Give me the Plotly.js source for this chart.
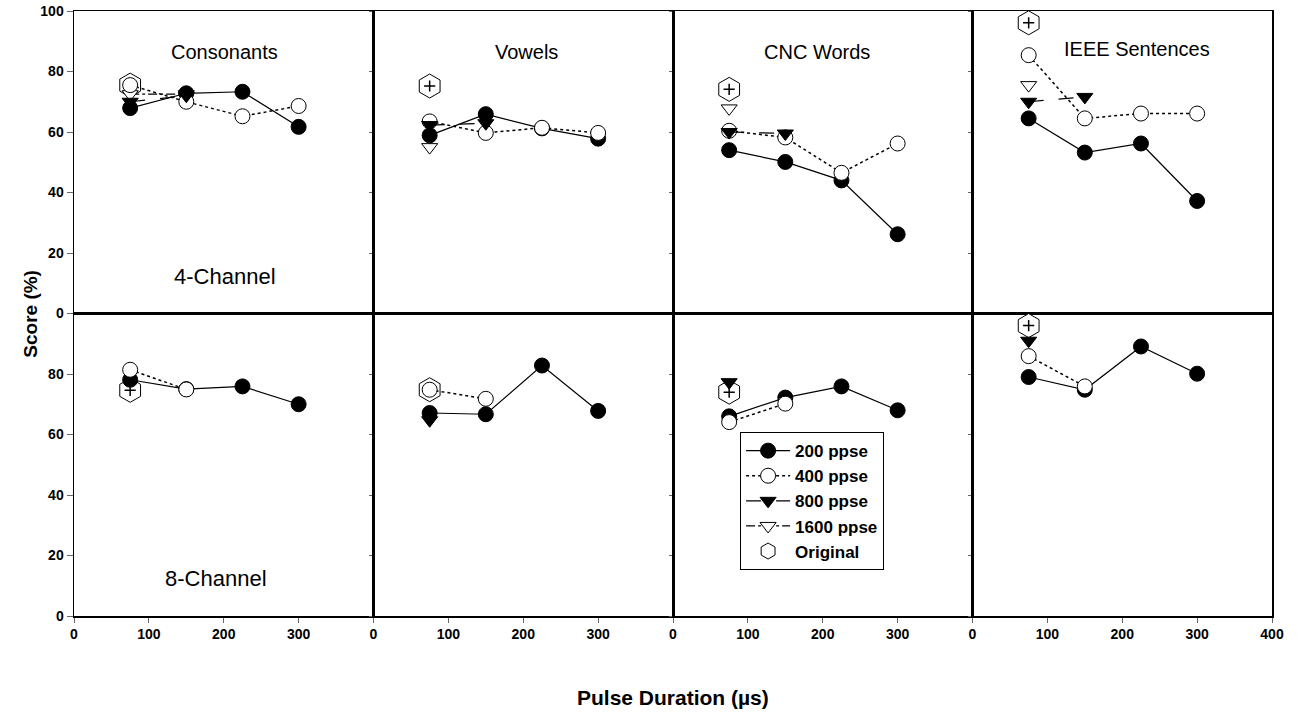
<!DOCTYPE html>
<html>
<head>
<meta charset="utf-8">
<script src="https://cdn.plot.ly/plotly-3.0.1.min.js"></script>
<style>html,body{margin:0;padding:0;background:#fff;}#chart{width:1300px;height:719px;}</style>
</head>
<body>
<div id="chart"></div>
<script>
// ---- data ----
const durations = [75, 150, 225, 300];
const tests = ['Consonants', 'Vowels', 'CNC Words', 'IEEE Sentences'];
const channels = ['4-Channel', '8-Channel'];
const xTicks = [0, 100, 200, 300];
const xTicksLast = [0, 100, 200, 300, 400];
const yTicksTop = [0, 20, 40, 60, 80, 100];
const yTicksBottom = [0, 20, 40, 60, 80];

// 4-channel (top row), one array per test
const s200_4ch = [[67.9, 72.8, 73.3, 61.7], [58.9, 65.9, 61.2, 57.8], [54.0, 50.1, 44.0, 26.2], [64.5, 53.2, 56.2, 37.2]];
const s400_4ch = [[75.5, 70.0, 65.2, 68.6], [63.5, 59.7, 61.4, 59.7], [60.4, 58.2, 46.5, 56.2], [85.4, 64.5, 66.1, 66.1]];
const s800_4ch = [[70.0, 72.0], [62.3, 62.9], [60.0, 59.5], [70.0, 71.6]];
const s1600_4ch = [[72.5, 72.5], [55.0], [67.8], [75.5]];
const orig_4ch = [75.5, 75.2, 74.1, 96.1];

// 8-channel (bottom row)
const s200_8ch = [[78.1, 75.0, 75.9, 70.0], [67.1, 66.7, 82.8, 67.8], [66.0, 72.2, 75.9, 68.0], [79.0, 74.8, 89.1, 80.1]];
const s400_8ch = [[81.4, 74.9], [74.8, 71.8], [64.1, 70.2], [85.9, 75.9]];
const s800_8ch = [[], [64.7], [77.3], [91.0]];
const s1600_8ch = [[], [], [], []];
const orig_8ch = [74.6, 74.8, 74.0, 96.0];

// ---- styles ----
const FONT = 'Arial, "Liberation Sans", sans-serif';
const series = [
  {name: '1600 ppse', rank: 4, key: 's1600', marker: {symbol: 'triangle-down', size: 14, color: '#fff', line: {color: '#000', width: 1}}, line: {color: '#000', width: 1.2, dash: 'dashdot'}},
  {name: '200 ppse', rank: 1, key: 's200', marker: {symbol: 'circle', size: 15, color: '#000', line: {color: '#000', width: 1}}, line: {color: '#000', width: 1.2, dash: 'solid'}},
  {name: '400 ppse', rank: 2, key: 's400', marker: {symbol: 'circle', size: 15, color: '#fff', line: {color: '#000', width: 1}}, line: {color: '#000', width: 1.5, dash: 'dot'}},
  {name: '800 ppse', rank: 3, key: 's800', marker: {symbol: 'triangle-down', size: 14, color: '#000', line: {color: '#000', width: 1}}, line: {color: '#000', width: 1.2, dash: 'longdash'}}
];
const dataByKey = {
  s200: [s200_4ch, s200_8ch],
  s400: [s400_4ch, s400_8ch],
  s800: [s800_4ch, s800_8ch],
  s1600: [s1600_4ch, s1600_8ch]
};
const origByRow = [orig_4ch, orig_8ch];

const traces = [];
const layout = {
  width: 1300, height: 719,
  margin: {l: 74, r: 28, t: 11, b: 103},
  paper_bgcolor: '#fff', plot_bgcolor: '#fff',
  hovermode: false,
  font: {family: FONT, color: '#000'},
  showlegend: true,
  legend: {
    x: 0.556, y: 0.304, xanchor: 'left', yanchor: 'top',
    bgcolor: '#fff', bordercolor: '#000', borderwidth: 1,
    font: {family: FONT, size: 17, weight: 'bold', color: '#000'},
    tracegroupgap: 0, itemwidth: 44, traceorder: 'normal'
  },
  annotations: []
};

const shown = {};
for (let r = 0; r < 2; r++) {
  for (let c = 0; c < 4; c++) {
    const i = r * 4 + c + 1;
    const xa = 'x' + (i === 1 ? '' : i);
    const ya = 'y' + (i === 1 ? '' : i);
    // original
    traces.push({
      x: [durations[0]], y: [origByRow[r][c]], xaxis: xa, yaxis: ya,
      mode: 'markers', type: 'scatter', name: 'Original', legendgroup: 'orig', legendrank: 5,
      showlegend: !shown.orig, cliponaxis: false,
      marker: {symbol: 'hexagon', size: 24, color: '#fff', line: {color: '#000', width: 1}}
    });
    shown.orig = true;
    traces.push({
      x: [durations[0]], y: [origByRow[r][c]], xaxis: xa, yaxis: ya,
      mode: 'markers', type: 'scatter', showlegend: false, cliponaxis: false,
      marker: {symbol: 'cross-thin-open', size: 8, color: '#000', line: {color: '#000', width: 1.5}}
    });
    series.forEach(s => {
      const vals = dataByKey[s.key][r][c];
      if (!vals.length) return;
      traces.push({
        x: durations.slice(0, vals.length), y: vals, xaxis: xa, yaxis: ya,
        mode: 'lines+markers', type: 'scatter', name: s.name, legendgroup: s.key, legendrank: s.rank,
        showlegend: !shown[s.key], cliponaxis: false,
        marker: s.marker, line: s.line
      });
      shown[s.key] = true;
    });

    const axNameX = 'xaxis' + (i === 1 ? '' : i);
    const axNameY = 'yaxis' + (i === 1 ? '' : i);
    layout[axNameX] = {
      domain: [c / 4, (c + 1) / 4], anchor: ya, range: [0, 400],
      showline: true, mirror: true, linecolor: '#000', linewidth: 1.5,
      showgrid: false, zeroline: false, fixedrange: true,
      ticks: r === 1 ? 'outside' : '', ticklen: 5, tickwidth: 1, tickcolor: '#666',
      tickmode: 'array', tickvals: c === 3 ? xTicksLast : xTicks,
      showticklabels: r === 1,
      tickfont: {family: FONT, size: 14, weight: 'bold', color: '#000'}
    };
    layout[axNameY] = {
      domain: r === 0 ? [0.5, 1] : [0, 0.5], anchor: xa, range: [0, 100],
      showline: true, mirror: true, linecolor: '#000', linewidth: 1.5,
      showgrid: false, zeroline: false, fixedrange: true,
      ticks: 'outside', ticklen: c === 0 ? 6 : 3, tickwidth: 1, tickcolor: '#666',
      tickmode: 'array', tickvals: r === 0 ? yTicksTop : yTicksBottom,
      showticklabels: c === 0,
      tickfont: {family: FONT, size: 14, weight: 'bold', color: '#000'}
    };
  }
}

// panel titles (top row)
const titleX = [201, 205, 192, 220];
tests.forEach((t, c) => {
  layout.annotations.push({
    text: t, xref: 'x' + (c === 0 ? '' : c + 1), yref: 'y' + (c === 0 ? '' : c + 1),
    x: titleX[c], y: c === 3 ? 87.5 : 86.5, showarrow: false,
    font: {family: FONT, size: 20, color: '#000'}
  });
});
// channel labels
layout.annotations.push({text: channels[0], xref: 'x', yref: 'y', x: 201, y: 12.3, showarrow: false,
  font: {family: FONT, size: 22, color: '#000'}});
layout.annotations.push({text: channels[1], xref: 'x5', yref: 'y5', x: 190, y: 12.5, showarrow: false,
  font: {family: FONT, size: 22, color: '#000'}});
// axis titles
layout.annotations.push({text: 'Score (%)', xref: 'paper', yref: 'paper', x: -0.047, y: 0.5,
  textangle: -90, showarrow: false, font: {family: FONT, size: 19, weight: 'bold', color: '#000'}});
layout.annotations.push({text: 'Pulse Duration (µs)', xref: 'paper', yref: 'paper', x: 0.5, y: -0.135,
  yanchor: 'middle', showarrow: false, font: {family: FONT, size: 21, weight: 'bold', color: '#000'}});

Plotly.newPlot('chart', traces, layout, {displayModeBar: false, staticPlot: true});
</script>
</body>
</html>
